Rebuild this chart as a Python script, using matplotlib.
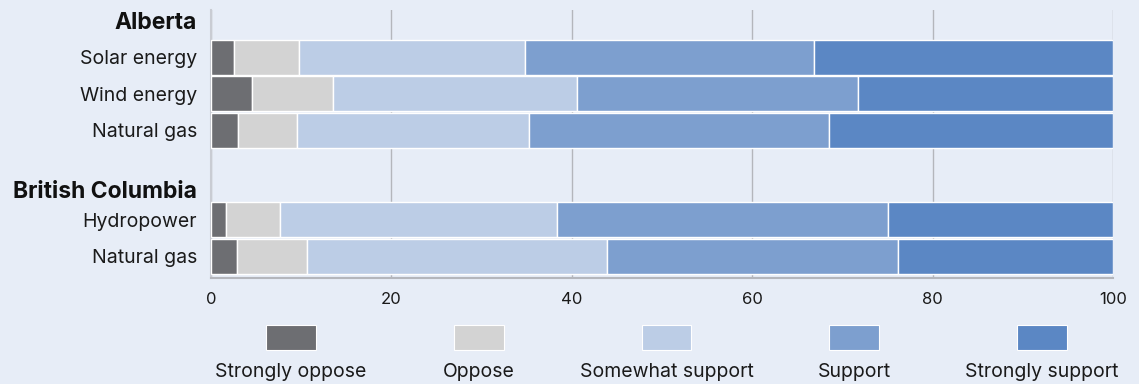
import matplotlib
matplotlib.use("Agg")
import matplotlib.pyplot as plt
from matplotlib.patches import Rectangle
import numpy as np

plt.rcParams['font.family'] = ['Inter', 'DejaVu Sans']

# ---- data ----
groups = ["Alberta", "British Columbia"]
sources = ["Solar energy", "Wind energy", "Natural gas", "Hydropower", "Natural gas"]
source_group = ["Alberta", "Alberta", "Alberta", "British Columbia", "British Columbia"]
responses = ["Strongly oppose", "Oppose", "Somewhat support", "Support", "Strongly support"]
strongly_oppose = [2.6, 4.5, 3.0, 1.7, 2.9]
oppose = [7.2, 9.0, 6.5, 5.9, 7.7]
somewhat_support = [25.0, 27.1, 25.8, 30.8, 33.3]
support = [32.0, 31.1, 33.2, 36.7, 32.3]
strongly_support = [33.2, 28.3, 31.5, 24.9, 23.8]
x_ticks = [0, 20, 40, 60, 80, 100]

# ---- style ----
bg = "#e7edf7"
colors = ["#6d6e72", "#d3d3d3", "#bccde6", "#7d9fcf", "#5b87c4"]
bar_pos = [0, 1, 2, 4.45, 5.45]
header_pos = [-1.0, 3.62]

W, H = 1139, 384
fig = plt.figure(figsize=(W / 100, H / 100), dpi=100, facecolor=bg)
ax = fig.add_axes([211 / W, 1 - 278 / H, (1113 - 211) / W, (278 - 10) / H])
ax.set_facecolor(bg)

series = [strongly_oppose, oppose, somewhat_support, support, strongly_support]
left = np.zeros(len(sources))
for vals, c in zip(series, colors):
    vals = np.array(vals)
    ax.barh(bar_pos, vals, left=left, height=0.96, color=c,
            edgecolor="white", linewidth=1.0, zorder=3)
    left += vals

ax.set_xlim(0, 100)
ax.set_ylim(6.05, -1.29)
ax.set_xticks(x_ticks)
ax.set_xticklabels([str(t) for t in x_ticks], fontsize=12, color="#1a1a1a")
ax.tick_params(axis='x', length=0, pad=10)
ax.grid(axis='x', color="#b4b6bc", linewidth=1.0, zorder=0)
ax.set_axisbelow(True)

yt = header_pos[:1] + bar_pos[:3] + header_pos[1:] + bar_pos[3:]
yl = [groups[0]] + sources[:3] + [groups[1]] + sources[3:]
ax.set_yticks(yt)
ax.set_yticklabels(yl, fontsize=14, color="#1a1a1a")
ax.tick_params(axis='y', length=0, pad=10)
for lab in ax.get_yticklabels():
    if lab.get_text() in groups:
        lab.set_fontweight("bold")
        lab.set_fontsize(16.5)
        lab.set_color("#111111")

for s in ["top", "right"]:
    ax.spines[s].set_visible(False)
ax.spines["left"].set_color("#c9ccd3")
ax.spines["left"].set_linewidth(1.5)
ax.spines["bottom"].set_color("#b4b6bc")
ax.spines["bottom"].set_linewidth(1.5)

# ---- legend ----
lax = fig.add_axes([197 / W, 0, 939 / W, 69 / H])
lax.set_xlim(-0.5, 4.5)
lax.set_ylim(0, 1)
lax.axis("off")
for i, (lab, c) in enumerate(zip(responses, colors)):
    lax.add_patch(Rectangle((i - 0.133, 0.493), 0.266, 0.362, facecolor=c,
                            edgecolor="white", linewidth=0.8))
    lax.text(i, 0.17, lab, ha="center", va="center", fontsize=14, color="#1a1a1a")

fig.savefig("out.png", dpi=100, facecolor=bg)
